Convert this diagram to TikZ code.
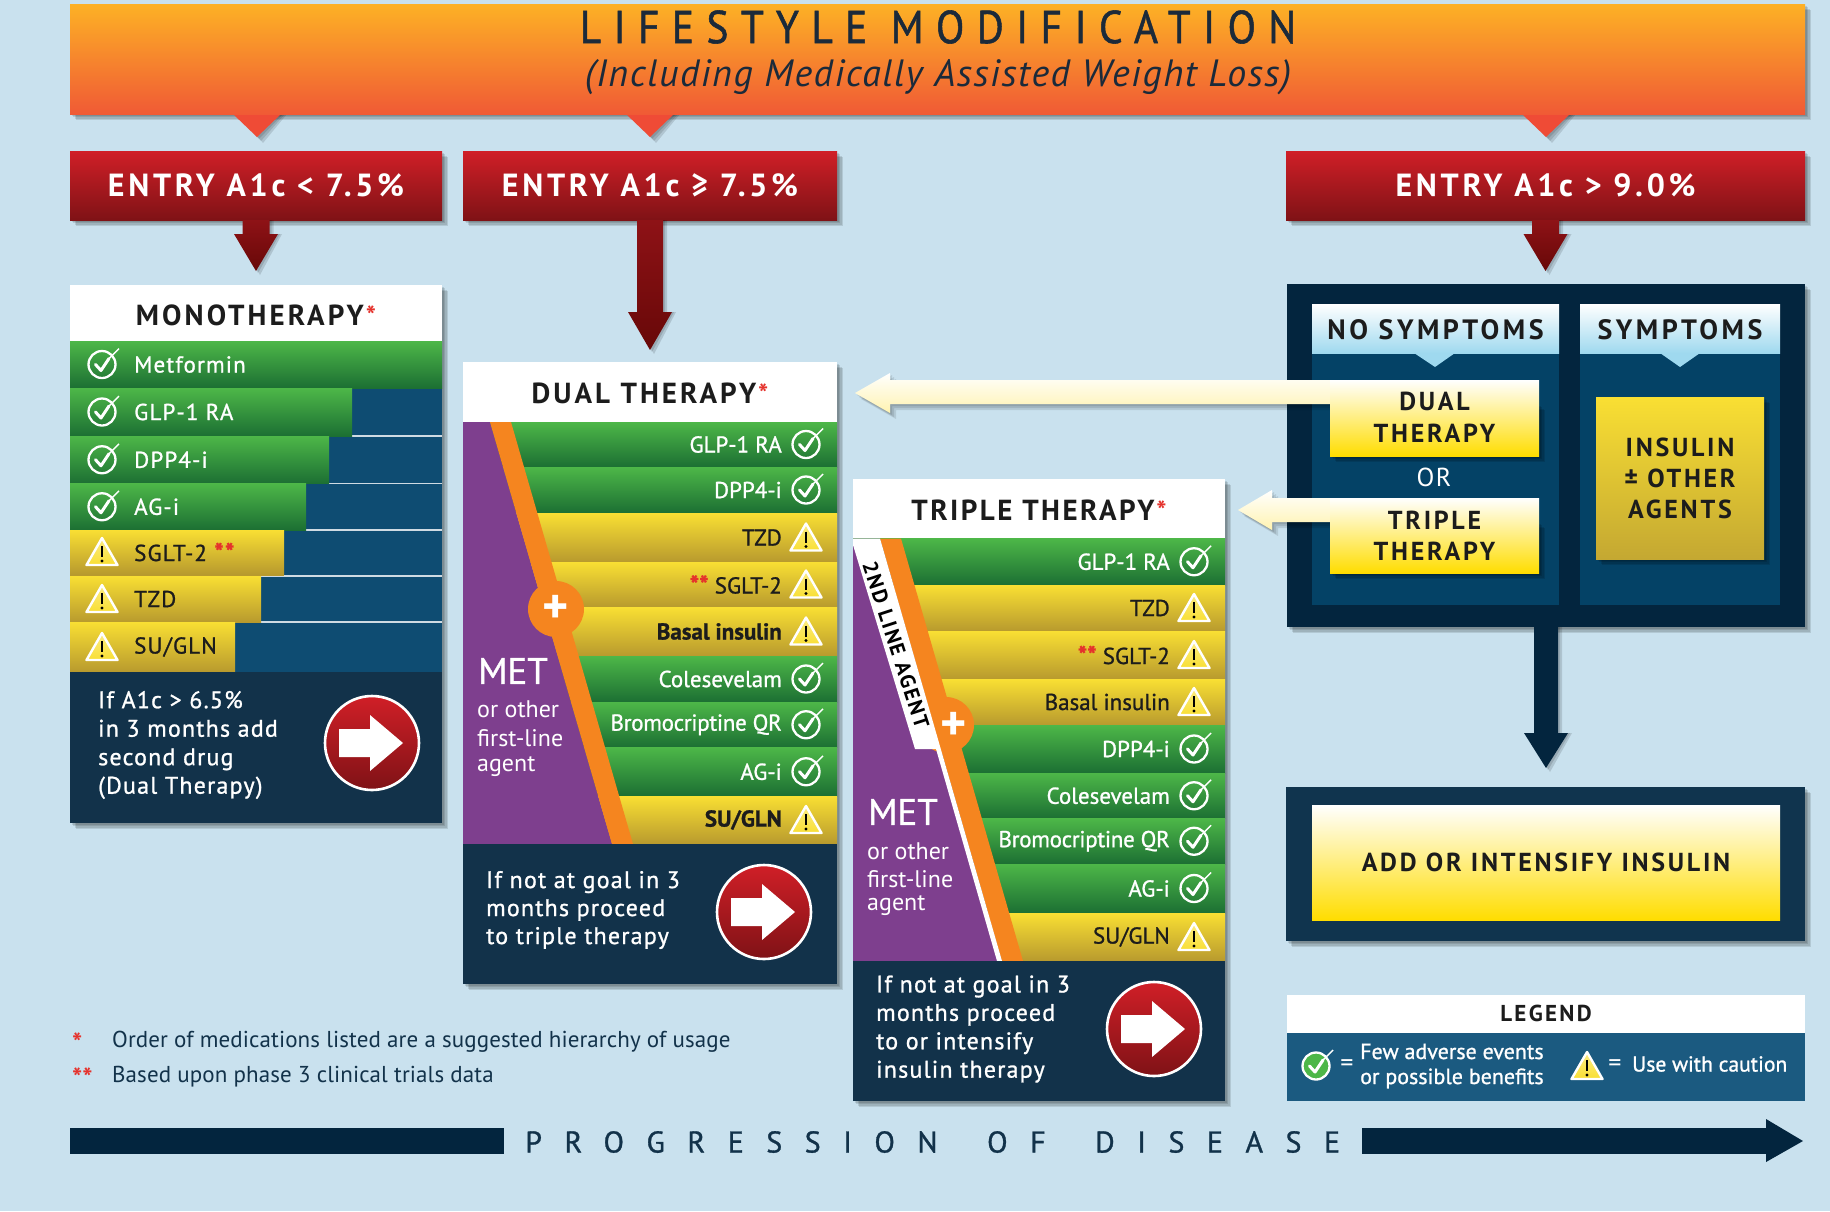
\documentclass[tikz,border=0pt]{standalone}
\usepackage{fontspec}
\usepackage{graphicx}
\setmainfont{PT Sans}
\usetikzlibrary{fit,calc,shapes.geometric}
\definecolor{bgc}{HTML}{C9E1EE}
\definecolor{navy}{HTML}{12324A}
\definecolor{deep}{HTML}{03253E}
\definecolor{inner}{HTML}{044266}
\definecolor{filler}{HTML}{0E4C72}
\definecolor{legblue}{HTML}{1B5A80}
\definecolor{purp}{HTML}{7E3F8E}
\definecolor{orng}{HTML}{F5851F}
\definecolor{grnT}{HTML}{4DB748}
\definecolor{grnB}{HTML}{1C6F33}
\definecolor{yelT}{HTML}{F9DF33}
\definecolor{yelB}{HTML}{B89A2E}
\definecolor{redT}{HTML}{D01F27}
\definecolor{redB}{HTML}{7F1216}
\definecolor{starred}{HTML}{E5322C}
\definecolor{dark}{HTML}{1C1C1C}
\definecolor{bantxt}{HTML}{1B2A3A}
\definecolor{banT}{HTML}{FDB125}
\definecolor{banB}{HTML}{F05A35}
\definecolor{notch}{HTML}{EF4B36}
\definecolor{arT}{HTML}{8E1216}
\definecolor{arB}{HTML}{670808}
\definecolor{skyB}{HTML}{9FD9EF}
\definecolor{creamM}{HTML}{FFF3B0}
\definecolor{goldB}{HTML}{FFDD00}
\definecolor{goldD}{HTML}{C4A832}
\newcommand{\fs}[1]{\fontsize{#1}{#1}\selectfont}
\newcommand{\semi}{\addfontfeature{FakeBold=1}}
\newcommand{\titlestar}{\hspace{2pt}\textcolor{starred}{\fs{27}*}}
\newcommand{\rowstars}{\textcolor{starred}{\bfseries\fs{25}**}}
\tikzset{
 box/.style={inner sep=0pt,outer sep=0pt},
 whitebox/.style={box,fill=white},
 rowG/.style={box,top color=grnT,bottom color=grnB},
 rowY/.style={box,top color=yelT,bottom color=yelB},
 panel/.style={box,fill=navy},
 redbar/.style={box,top color=redT,bottom color=redB},
 creambox/.style={box,top color=white,middle color=creamM,bottom color=goldB},
 titletxt/.style={text=dark,font=\fs{29}\bfseries\addfontfeature{LetterSpace=10.5}},
 entrytxt/.style={text=white,font=\fs{32}\bfseries\addfontfeature{LetterSpace=11.5}},
 rowtxtG/.style={text=white,font=\fs{23}\semi},
 rowtxtY/.style={text=dark,font=\fs{23}\semi},
 monotxtG/.style={text=white,font=\fs{23}\addfontfeature{LetterSpace=5,FakeBold=1}},
 monotxtY/.style={text=dark,font=\fs{23}\addfontfeature{LetterSpace=5,FakeBold=1}},
 panelTxt/.style={text=white,font=\fs{24}\addfontfeature{LetterSpace=5,FakeBold=1},align=left,anchor=west},
 smallhead/.style={text=dark,font=\fs{28}\bfseries\addfontfeature{LetterSpace=12.5}},
 boxhead/.style={text=dark,font=\fs{26}\bfseries\addfontfeature{LetterSpace=10.5}},
 metTxt/.style={text=white,font=\fs{37}\semi,anchor=west},
 orTxt/.style={text=white,font=\fs{24},anchor=west},
 foot/.style={text=navy,font=\fs{23}\addfontfeature{LetterSpace=0.4},anchor=west},
 plusn/.style={text=white,font=\fs{50}\bfseries,inner sep=0pt},
}
\newcommand{\shad}[4]{\foreach \d in {1.5,3,4.5,6}{\fill[black,opacity=.11] (#1+\d,#2+\d) rectangle (#3+\d,#4+\d);}}
\newcommand{\iconG}[2]{\begin{scope}[shift={({#1},{#2})}]
 \draw[white,line width=2.3pt] (0,0) circle[radius=13.5];
 \draw[white,line width=3pt,line join=round,line cap=round] (-6.5,0) -- (-1,6) -- (7,-6);
 \draw[white,line width=1.4pt] (7,-6) -- (17,-16);
 \end{scope}}
\newcommand{\iconY}[2]{\begin{scope}[shift={({#1},{#2})}]
 \draw[line width=2.4pt,white,line join=round,top color=yelT!60!white,bottom color=yelT] (0,-14) -- (15.5,13) -- (-15.5,13) -- cycle;
 \draw[black,line width=2.6pt] (0,-6) -- (0,5);
 \fill[black] (0,9) circle[radius=1.6];
 \end{scope}}
\newcommand{\monoRow}[6]{%
 \node[fit={(70,#2)(#4,#3)},row#5] (#1) {};
 \csname icon#5\endcsname{102}{(#2+#3)/2}
 \node[monotxt#5,anchor=west,inner sep=0pt] (#1t) at (134,{(#2+#3)/2}) {#6};}
\newcommand{\rhsRow}[7]{% name,y1,y2,xl,xr,kind,label
 \node[fit={(#4,#2)(#5,#3)},row#6] (#1) {};
 \csname icon#6\endcsname{#5-31}{(#2+#3)/2}
 \node[rowtxt#6,anchor=east,inner sep=0pt] (#1t) at ({#5-55},{(#2+#3)/2}) {#7};}
\newcommand{\redgo}[3]{%
 \node[circle,draw=white,line width=2.6pt,minimum size=94pt,inner sep=0pt,top color=redT,bottom color=redB] (#1) at (#2,#3) {};
 \fill[white] ([shift={(-33,-14)}]#1.center) -- ([shift={(-2,-14)}]#1.center) -- ([shift={(-2,-28)}]#1.center) -- ([shift={(31,0)}]#1.center) -- ([shift={(-2,28)}]#1.center) -- ([shift={(-2,14)}]#1.center) -- ([shift={(-33,14)}]#1.center) -- cycle;}
\newcommand{\fatdown}[7]{% node, shaft half, head y, head half, tip y, colour top, colour bottom
 \foreach \d in {2,4}{\fill[black,opacity=.13] ([shift={(-#2+\d,0)}]#1.south) -- ([shift={(-#2+\d,#3)}]#1.south) -- ([shift={(-#4+\d,#3)}]#1.south) -- ([shift={(\d,#5+\d)}]#1.south) -- ([shift={(#4+\d,#3)}]#1.south) -- ([shift={(#2+\d,#3)}]#1.south) -- ([shift={(#2+\d,0)}]#1.south) -- cycle;}
 \path[top color=#6,bottom color=#7] ([shift={(-#2,0)}]#1.south) -- ([shift={(-#2,#3)}]#1.south) -- ([shift={(-#4,#3)}]#1.south) -- ([shift={(0,#5)}]#1.south) -- ([shift={(#4,#3)}]#1.south) -- ([shift={(#2,#3)}]#1.south) -- ([shift={(#2,0)}]#1.south) -- cycle;}
\newcommand{\creamarrow}[7]{% box node, tip x, head x, shaft y top, shaft y bot, head y top, head y bot
 \foreach \d in {2,4,6}{\fill[black,opacity=.1] (#1.west |- 0,#4+\d) -- (#3+\d,#4+\d) -- (#3+\d,#6+\d) -- (#2+\d,{(#6+#7)/2+\d}) -- (#3+\d,#7+\d) -- (#3+\d,#5+\d) -- (#1.west |- 0,#5+\d) -- cycle;}
 \path[top color=white,bottom color=creamM] (#1.west |- 0,#4) -- (#3,#4) -- (#3,#6) -- (#2,{(#6+#7)/2}) -- (#3,#7) -- (#3,#5) -- (#1.west |- 0,#5) -- cycle;}
\begin{document}
\begin{tikzpicture}[x=1pt,y=-1pt]
\useasboundingbox (0,0) rectangle (1830,1211);
\fill[bgc] (0,0) rectangle (1830,1211);
% banner
\foreach \cx in {257,650,1546}{
 \foreach \d in {2,4,6}{\fill[black,opacity=.12] (\cx-24+\d,114) -- (\cx+\d,137+\d) -- (\cx+24+\d,114) -- cycle;}
 }
\shad{70}{4}{1805}{114}
\foreach \cx in {257,650,1546}{\fill[notch] (\cx-24,114) -- (\cx,137) -- (\cx+24,114) -- cycle;}
\node[fit={(70,4)(1805,114)},box,top color=banT,bottom color=banB] (banner) {};
\node[inner sep=0pt,text=bantxt] (bt) at (938,27) {\scalebox{.9}[1]{\fs{46}\addfontfeature{LetterSpace=30,FakeBold=1.2}LIFESTYLE MODIFICATION}};
\node[inner sep=0pt,text=bantxt] (bs) at (938,77) {\fs{38}\itshape\addfontfeature{LetterSpace=4} (Including Medically Assisted Weight Loss)};
% entries
\shad{70}{151}{442}{220}\shad{463}{151}{837}{220}\shad{1286}{151}{1805}{220}
\node[fit={(70,151)(442,220)},redbar] (e1) {};
\node[fit={(463,151)(837,220)},redbar] (e2) {};
\node[fit={(1286,151)(1805,220)},redbar] (e3) {};
\node[entrytxt] (e1t) at (e1.center) {ENTRY A1c < 7.5\%};
\node[entrytxt] (e2t) at (e2.center) {ENTRY A1c ≥ 7.5\%};
\node[entrytxt] (e3t) at (e3.center) {ENTRY A1c > 9.0\%};
\fatdown{e1}{13.5}{14}{22}{51}{arT}{arB}
\fatdown{e2}{13}{92}{22}{130}{arT}{arB}
\fatdown{e3}{13.5}{14}{22}{51}{arT}{arB}
% MONO
\shad{70}{285}{442}{823}
\node[fit={(70,285)(442,341)},whitebox] (mono) {};
\node[titletxt] (monot) at (256,315.5) {MONOTHERAPY\titlestar};
\node[fit={(70,341)(442,672)},box,fill=filler] (monofill) {};
\foreach \yy in {436,483.5,530,576,622}{\draw[white!80!filler,line width=1.1pt] (235,\yy) -- (442,\yy);}
\monoRow{m1}{341}{388}{442}{G}{Metformin}
\monoRow{m2}{388}{436}{352}{G}{GLP-1 RA}
\monoRow{m3}{436}{483.5}{329}{G}{DPP4-i}
\monoRow{m4}{483.5}{530}{306}{G}{AG-i}
\monoRow{m5}{530}{574}{284}{Y}{SGLT-2 \rowstars}
\fill[yelB] (70,574) rectangle (284,576);
\monoRow{m6}{576}{622}{261}{Y}{TZD}
\monoRow{m7}{622}{672}{235}{Y}{SU/GLN}
\node[fit={(70,672)(442,823)},panel] (mp) {};
\node[panelTxt,inner sep=0pt] (mpt) at (98,745) {\baselineskip=28.5pt\vbox{\hbox{If A1c > 6.5\%}\hbox{in 3 months add}\hbox{second drug}\hbox{(Dual Therapy)}}};
\redgo{mgo}{372}{743}
% DUAL
\shad{463}{362}{837}{984}
\node[fit={(463,362)(837,422)},whitebox] (dual) {};
\node[titletxt] (dualt) at (650,393) {DUAL THERAPY\titlestar};
\rhsRow{d1}{422}{467}{463}{837}{G}{GLP-1 RA}
\rhsRow{d2}{467}{513}{463}{837}{G}{DPP4-i}
\rhsRow{d3}{513}{562}{463}{837}{Y}{TZD}
\rhsRow{d4}{562}{607}{463}{837}{Y}{\rowstars\ SGLT-2}
\rhsRow{d5}{607}{656}{463}{837}{Y}{\textbf{Basal insulin}}
\rhsRow{d6}{656}{702}{463}{837}{G}{Colesevelam}
\rhsRow{d7}{702}{747.5}{463}{837}{G}{\addfontfeature{LetterSpace=-1.2}Bromocriptine QR}
\rhsRow{d8}{747.5}{796}{463}{837}{G}{AG-i}
\rhsRow{d9}{796}{844}{463}{837}{Y}{\textbf{SU/GLN}}
\fill[purp] (463,422) -- (490,422) -- (612,844) -- (463,844) -- cycle;
\fill[orng] (490,422) -- (511,422) -- (633,844) -- (612,844) -- cycle;
\node[circle,fill=orng,minimum size=56pt,plusn] (dplus) at (556,609) {\raisebox{-3pt}{+}};
\node[metTxt,inner sep=0pt] (dm) at (478,671) {MET};
\node[orTxt,inner sep=0pt] (do) at (477,709) {or other};
\node[orTxt,inner sep=0pt] (df) at (477,738) {first-line};
\node[orTxt,inner sep=0pt] (da) at (477,767) {agent};
\node[fit={(463,844)(837,984)},panel] (dp) {};
\node[panelTxt,inner sep=0pt] (dpt) at (486,910) {\baselineskip=28pt\vbox{\hbox{If not at goal in 3}\hbox{months proceed}\hbox{to triple therapy}}};
\redgo{dgo}{764}{912}
% TRIPLE
\shad{853}{479}{1225}{1101}
\node[fit={(853,479)(1225,538.5)},whitebox] (trip) {};
\node[titletxt] (tript) at (1039,510) {\addfontfeature{LetterSpace=8.5}TRIPLE THERAPY\titlestar};
\rhsRow{t1}{538.5}{585}{853}{1225}{G}{GLP-1 RA}
\rhsRow{t2}{585}{631}{853}{1225}{Y}{TZD}
\rhsRow{t3}{631}{679}{853}{1225}{Y}{\rowstars\ SGLT-2}
\rhsRow{t4}{679}{725}{853}{1225}{Y}{Basal insulin}
\rhsRow{t5}{725}{773}{853}{1225}{G}{DPP4-i}
\rhsRow{t6}{773}{818.5}{853}{1225}{G}{Colesevelam}
\rhsRow{t7}{818.5}{864}{853}{1225}{G}{\addfontfeature{LetterSpace=-1.2}Bromocriptine QR}
\rhsRow{t8}{864}{913}{853}{1225}{G}{AG-i}
\rhsRow{t9}{913}{961}{853}{1225}{Y}{SU/GLN}
\fill[purp] (853,538.5) -- (880,538.5) -- (1002,961) -- (853,961) -- cycle;
\fill[orng] (880,538.5) -- (901,538.5) -- (1023,961) -- (1002,961) -- cycle;
\node[circle,fill=orng,minimum size=56pt,box] (tcirc) at (946,725) {};
\fill[white] (853,538.5) -- (880,538.5) -- (1002,961) -- (997,961) -- (936,749) -- (915,749) -- (853,545) -- cycle;
\node[plusn] (tplus) at (954,726) {+};
\node[rotate=-72,inner sep=0pt,text=black,font=\fs{21}\bfseries\addfontfeature{LetterSpace=9}] (t2nd) at (896,645) {2ND LINE AGENT};
\node[metTxt,inner sep=0pt] (tm) at (868,812) {MET};
\node[orTxt,inner sep=0pt] (to) at (867,851) {or other};
\node[orTxt,inner sep=0pt] (tf) at (867,879) {first-line};
\node[orTxt,inner sep=0pt] (ta) at (867,906) {agent};
\node[fit={(853,961)(1225,1101)},panel] (tp) {};
\node[panelTxt,inner sep=0pt] (tpt) at (876,1029) {\baselineskip=28.4pt\vbox{\hbox{If not at goal in 3}\hbox{months proceed}\hbox{to or intensify}\hbox{insulin therapy}}};
\redgo{tgo}{1154}{1029}
% SYMPTOMS
\shad{1287}{284}{1805}{627}
\node[fit={(1287,284)(1805,627)},box,fill=deep] (sym) {};
\fatdown{sym}{12}{106}{22}{141}{deep}{deep}
\node[fit={(1312,304)(1559,605)},box,fill=inner] (nos) {};
\node[fit={(1580,304)(1780,605)},box,fill=inner] (yes) {};
\fill[skyB] (1414,353) -- (1435,367) -- (1455,353) -- cycle;
\fill[skyB] (1660,353) -- (1680,367) -- (1700,353) -- cycle;
\node[fit={(1312,304)(1559,353)},box,top color=white,bottom color=skyB] (nosh) {};
\node[fit={(1580,304)(1780,353)},box,top color=white,bottom color=skyB] (yesh) {};
\node[smallhead] (nost) at ([yshift=-1pt]nosh.center) {NO SYMPTOMS};
\node[smallhead] (yest) at ([yshift=-1pt]yesh.center) {SYMPTOMS};
\node[fit={(1330,380)(1539,456)},box] (dbx) {};
\node[fit={(1330,498)(1539,573)},box] (tbx) {};
\creamarrow{dbx}{855}{890}{380}{404}{373}{413}
\creamarrow{tbx}{1238}{1272}{498}{522}{490}{530}
\shad{1330}{404}{1539}{456}\shad{1330}{522}{1539}{573}
\shad{1596}{397}{1764}{559}
\node[fit={(1330,380)(1539,456)},creambox] (dbox) {};
\node[fit={(1330,498)(1539,573)},creambox] (tbox) {};
\node[fit={(1596,397)(1764,559)},box,top color=yelT,middle color=yelT!92!goldD,bottom color=goldD] (ibox) {};
\node[boxhead] (dbt) at ([yshift=1pt]dbox.center) {\baselineskip=32pt\vbox{\hbox to 0pt{\hss DUAL\hss}\hbox to 0pt{\hss THERAPY\hss}}};
\node[boxhead] (tbt) at ([yshift=0pt]tbox.center) {\baselineskip=31pt\vbox{\hbox to 0pt{\hss TRIPLE\hss}\hbox to 0pt{\hss THERAPY\hss}}};
\node[text=white,font=\fs{26}\addfontfeature{LetterSpace=6}] (ort) at (1434,477) {OR};
\node[boxhead] (ibt) at (1680,478) {\baselineskip=31pt\vbox{\hbox to 0pt{\hss INSULIN\hss}\hbox to 0pt{\hss ± OTHER\hss}\hbox to 0pt{\hss AGENTS\hss}}};
% ADD INSULIN
\shad{1286}{787}{1805}{941}
\node[fit={(1286,787)(1805,941)},box,fill=navy!85!inner] (addo) {};
\node[fit={(1312,805)(1780,920)},creambox] (addb) {};
\node[boxhead,font=\fs{26}\bfseries\addfontfeature{LetterSpace=10.4}] (addt) at (addb.center) {ADD OR INTENSIFY INSULIN};
% footnotes
\node[foot,inner sep=0pt,text=starred,font=\fs{27}\bfseries] (s1) at (72,1043) {*};
\node[foot,inner sep=0pt,text=starred,font=\fs{27}\bfseries] (s2) at (72,1078) {**};
\node[foot,inner sep=0pt] (f1) at (112,1042) {Order of medications listed are a suggested hierarchy of usage};
\node[foot,inner sep=0pt] (f2) at (112,1077) {Based upon phase 3 clinical trials data};
% legend
\node[fit={(1287,995)(1805,1033)},whitebox] (lg) {};
\node[text=dark,font=\fs{23}\bfseries\addfontfeature{LetterSpace=10}] (lgt) at ([yshift=1pt]lg.center) {LEGEND};
\node[fit={(1287,1033)(1805,1101)},box,fill=legblue] (lgb) {};
\fill[grnT] (1316,1066) circle[radius=13.5];
\iconG{1316}{1066}
\node[text=white,font=\fs{26},inner sep=0pt] (lge1) at (1347,1066) {=};
\node[text=white,font=\fs{22}\semi,inner sep=0pt,anchor=west] (lg1) at (1360,1066) {\baselineskip=25pt\vbox{\hbox{Few adverse events}\hbox{or possible benefits}}};
\iconY{1587}{1066}
\node[text=white,font=\fs{26},inner sep=0pt] (lge2) at (1615,1066) {=};
\node[text=white,font=\fs{21.6}\semi,inner sep=0pt,anchor=west] (lg2) at (1632,1064) {Use with caution};
% progression
\node[fit={(70,1128)(504,1154)},box,fill=deep] (pl) {};
\node[fit={(1362,1128)(1766,1154)},box,fill=deep] (pr) {};
\fill[deep] (pr.north east) -- (1766,1119) -- (1803,1141) -- (1766,1162) -- (pr.south east) -- cycle;
\node[text=navy,font=\fs{30}\addfontfeature{LetterSpace=75,FakeBold=1},inner sep=0pt,anchor=west] (pt) at (525,1142) {PROGRESSION\hspace{19pt} OF\hspace{19pt} DISEASE};
\end{tikzpicture}
\end{document}
